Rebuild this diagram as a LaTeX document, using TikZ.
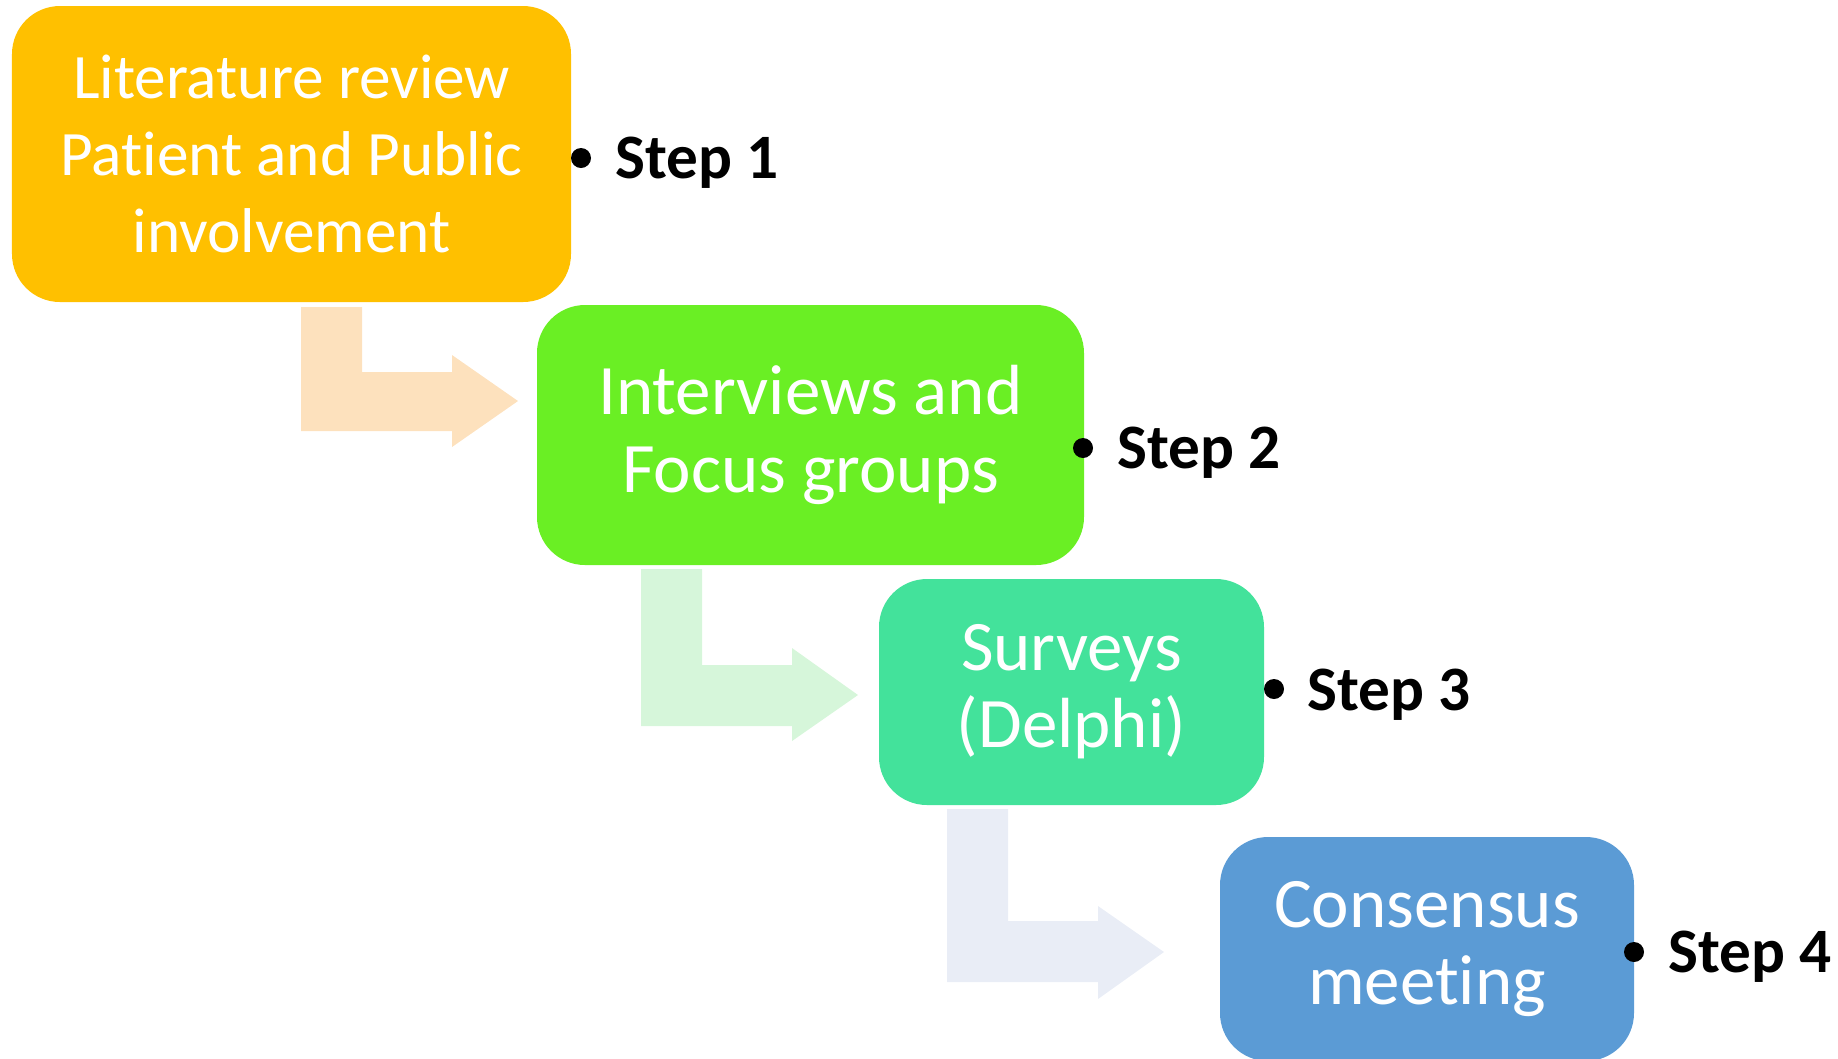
\documentclass[tikz,border=0pt]{standalone}
\usepackage{fontspec}
\setmainfont{Carlito}[Ligatures=NoCommon]
\usepackage{tikz}
\usetikzlibrary{positioning}
\definecolor{litgold}{HTML}{FFC000}
\definecolor{intgreen}{HTML}{6AEF24}
\definecolor{survgreen}{HTML}{43E29B}
\definecolor{consblue}{HTML}{5B9BD5}
\definecolor{arrpeach}{HTML}{FDE1BD}
\definecolor{arrmint}{HTML}{D6F6DA}
\definecolor{arrgrey}{HTML}{E9EDF6}

\begin{document}
\begin{tikzpicture}
	\useasboundingbox (0,0) rectangle (18.38,-10.58);
	% bent arrows between the stages
	\fill[arrpeach] (3.01,-3.07) -- (3.62,-3.07) -- (3.62,-3.72) -- (4.52,-3.72) -- (4.52,-3.55)
		-- (5.18,-4.01) -- (4.52,-4.47) -- (4.52,-4.31) -- (3.01,-4.31) -- cycle;
	\fill[arrmint] (6.41,-5.69) -- (7.02,-5.69) -- (7.02,-6.65) -- (7.92,-6.65) -- (7.92,-6.48)
		-- (8.58,-6.95) -- (7.92,-7.41) -- (7.92,-7.26) -- (6.41,-7.26) -- cycle;
	\fill[arrgrey] (9.47,-8.09) -- (10.08,-8.09) -- (10.08,-9.21) -- (10.98,-9.21) -- (10.98,-9.06)
		-- (11.64,-9.52) -- (10.98,-9.99) -- (10.98,-9.82) -- (9.47,-9.82) -- cycle;
	\begin{scope}[every node/.style={rounded corners=0.48cm, text=white, align=center,
	              font=\fontsize{20.2}{22}\selectfont}]
		\node[fill=litgold, minimum width=5.59cm, minimum height=2.96cm,
		      font=\fontsize{18}{22}\selectfont] (lit) at (2.915,-1.54)
			{Literature review\\Patient and Public\\involvement};
		\node[fill=intgreen, minimum width=5.47cm, minimum height=2.60cm] (intv) at (8.105,-4.35)
			{Interviews and\\Focus groups};
		\node[fill=survgreen, minimum width=3.85cm, minimum height=2.26cm] (surv) at (10.715,-6.92)
			{Surveys\\(Delphi)};
		\node[fill=consblue, minimum width=4.14cm, minimum height=2.24cm] (cons) at (14.27,-9.49)
			{Consensus\\meeting};
	\end{scope}
	\begin{scope}[every node/.style={circle, fill=black, inner sep=0pt, minimum size=0.2cm}]
		\node (b1) at (5.81,-1.58) {};
		\node (b2) at (10.83,-4.48) {};
		\node (b3) at (12.74,-6.89) {};
		\node (b4) at (16.34,-9.52) {};
	\end{scope}
	\begin{scope}[every node/.style={anchor=base west, inner sep=0pt,
	              font=\fontsize{18}{22}\selectfont\bfseries}]
		\node (s1) at (6.15,-1.78) {Step 1};
		\node (s2) at (11.17,-4.68) {Step 2};
		\node (s3) at (13.07,-7.10) {Step 3};
		\node (s4) at (16.68,-9.72) {Step 4};
	\end{scope}
\end{tikzpicture}
\end{document}
